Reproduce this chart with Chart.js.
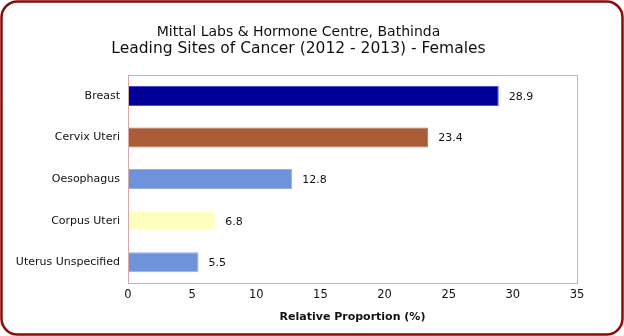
<!DOCTYPE html>
<html>
<head>
<meta charset="utf-8">
<script src="https://cdn.jsdelivr.net/npm/chart.js@4"></script>
<style>
  html, body { margin: 0; padding: 0; background: #fff; }
  #wrap { position: relative; width: 624px; height: 336px; }
</style>
</head>
<body>
<div id="wrap"><canvas id="myChart"></canvas></div>
<script>
const sites = ["Breast", "Cervix Uteri", "Oesophagus", "Corpus Uteri", "Uterus Unspecified"];
const proportion = [28.9, 23.4, 12.8, 6.8, 5.5];
const xTicks = [0, 5, 10, 15, 20, 25, 30, 35];

const barColors = ["#000099", "#A95C35", "#6F93DA", "#FFFFC0", "#6F93DA"];
const barBorders = ["#4D4DC4", "#B8734F", "#95B0E6", "#FFFFD8", "#95B0E6"];

const FONT = "'DejaVu Sans', 'Lucida Grande', sans-serif";

// outer rounded frame + plot area border
const framePlugin = {
  id: "frame",
  afterLayout(chart) {
    // titles sit a bit right of the plot centre in the original
    chart.boxes.forEach((b) => {
      if (b.position === "top") b.left += 20;
    });
  },
  beforeDraw(chart) {
    const ctx = chart.ctx;
    ctx.save();
    ctx.fillStyle = "#fff";
    ctx.fillRect(0, 0, chart.width, chart.height);
    ctx.strokeStyle = "#8B0A0A";
    ctx.lineWidth = 2.5;
    ctx.beginPath();
    ctx.roundRect(1.5, 1.5, chart.width - 3, chart.height - 3, 16);
    ctx.stroke();
    ctx.restore();
  },
  afterDraw(chart) {
    const a = chart.chartArea;
    const ctx = chart.ctx;
    ctx.save();
    ctx.strokeStyle = "#D9A9A9";
    ctx.lineWidth = 1;
    ctx.strokeRect(Math.round(a.left) + 0.5, Math.round(a.top) + 0.5,
      Math.round(a.right - a.left), Math.round(a.bottom - a.top));
    ctx.restore();
  },
};

// value labels at bar ends
const valueLabels = {
  id: "valueLabels",
  afterDatasetsDraw(chart) {
    const ctx = chart.ctx;
    const meta = chart.getDatasetMeta(0);
    ctx.save();
    ctx.font = "11px " + FONT;
    ctx.fillStyle = "#111";
    ctx.textBaseline = "middle";
    meta.data.forEach((bar, i) => {
      ctx.fillText(proportion[i].toFixed(1), bar.x + 10, bar.y + 1);
    });
    ctx.restore();
  },
};

new Chart(document.getElementById("myChart").getContext("2d"), {
  type: "bar",
  data: {
    labels: sites,
    datasets: [
      {
        data: proportion,
        backgroundColor: barColors,
        borderColor: barBorders,
        borderWidth: 1,
        borderSkipped: false,
        categoryPercentage: 1,
        barPercentage: 0.48,
      },
    ],
  },
  options: {
    indexAxis: "y",
    responsive: true,
    maintainAspectRatio: false,
    animation: false,
    layout: { padding: { top: 25, right: 47, bottom: 0, left: 0 } },
    plugins: {
      legend: { display: false },
      tooltip: { enabled: false },
      title: {
        display: true,
        text: "Mittal Labs & Hormone Centre, Bathinda",
        color: "#111",
        font: { family: FONT, size: 14, weight: "normal", lineHeight: 1 },
        padding: { top: 0, bottom: 0 },
      },
      subtitle: {
        display: true,
        text: "Leading Sites of Cancer (2012 - 2013) - Females",
        color: "#111",
        font: { family: FONT, size: 15.5, weight: "normal", lineHeight: 1.3 },
        padding: { top: 0, bottom: 16 },
      },
    },
    scales: {
      x: {
        min: 0,
        max: 35,
        afterBuildTicks(scale) {
          scale.ticks = xTicks.map((v) => ({ value: v }));
        },
        afterFit(scale) {
          scale.height = 53;
        },
        grid: { display: false, drawTicks: false },
        border: { display: false },
        ticks: {
          padding: 5,
          color: "#111",
          font: { family: FONT, size: 11.5 },
        },
        title: {
          display: true,
          text: "Relative Proportion (%)",
          color: "#111",
          font: { family: FONT, size: 11, weight: "bold" },
          padding: { top: 0, bottom: 12 },
        },
      },
      y: {
        afterFit(scale) {
          scale.width = 128;
        },
        grid: { display: false, drawTicks: false },
        border: { display: false },
        ticks: {
          padding: 8,
          color: "#111",
          font: { family: FONT, size: 11 },
        },
      },
    },
  },
  plugins: [framePlugin, valueLabels],
});
</script>
</body>
</html>
